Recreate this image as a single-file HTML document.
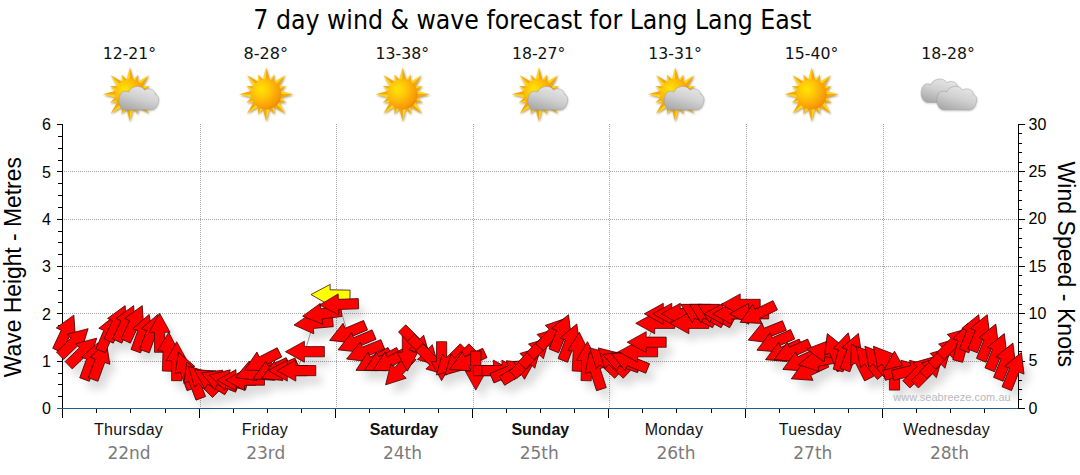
<!DOCTYPE html>
<html lang="en"><head><meta charset="utf-8"><title>7 day wind &amp; wave forecast for Lang Lang East</title>
<style>
html,body{margin:0;padding:0;background:#fff;}
body{width:1080px;height:475px;overflow:hidden;}
svg{display:block;}
.tah{font-family:"DejaVu Sans Condensed","DejaVu Sans","Liberation Sans",sans-serif;}
.ver{font-family:"DejaVu Sans","Liberation Sans",sans-serif;}
.ari{font-family:"Liberation Sans",Arial,sans-serif;}
</style></head><body>
<svg width="1080" height="475" viewBox="0 0 1080 475">
<defs>
<radialGradient id="sunG" cx="0.34" cy="0.34" r="0.72"><stop offset="0" stop-color="#ffe600"/><stop offset="0.4" stop-color="#ffc408"/><stop offset="0.85" stop-color="#f99a06"/><stop offset="1" stop-color="#e98a0a"/></radialGradient>
<linearGradient id="rayG" x1="0" y1="0" x2="0" y2="1"><stop offset="0" stop-color="#ffd21a"/><stop offset="1" stop-color="#f7a000"/></linearGradient>
<linearGradient id="cloudG" x1="0.75" y1="0" x2="0.25" y2="1"><stop offset="0" stop-color="#e8e8e8"/><stop offset="0.5" stop-color="#d0d0d0"/><stop offset="1" stop-color="#a9a9a9"/></linearGradient>
<filter id="sh" x="-20%" y="-20%" width="150%" height="160%"><feGaussianBlur stdDeviation="4.5"/></filter>
<filter id="ish" x="-20%" y="-20%" width="140%" height="140%"><feGaussianBlur stdDeviation="0.8"/></filter>
<path id="ar" d="M0,-19.5 L10.5,-0.5 L5.1,-0.5 L5.1,19.5 L-5.1,19.5 L-5.1,-0.5 L-10.5,-0.5 Z"/>
<g id="sun"><g fill="#7a5a18" opacity="0.6" transform="translate(0.7,1.1)" filter="url(#ish)"><path transform="rotate(0.0)" d="M-3.7,-13.5 L0,-27.0 L3.7,-13.5 Z"/><path transform="rotate(22.5)" d="M-3.0,-13.5 L0,-21.5 L3.0,-13.5 Z"/><path transform="rotate(45.0)" d="M-3.7,-13.5 L0,-27.0 L3.7,-13.5 Z"/><path transform="rotate(67.5)" d="M-3.0,-13.5 L0,-21.5 L3.0,-13.5 Z"/><path transform="rotate(90.0)" d="M-3.7,-13.5 L0,-27.0 L3.7,-13.5 Z"/><path transform="rotate(112.5)" d="M-3.0,-13.5 L0,-21.5 L3.0,-13.5 Z"/><path transform="rotate(135.0)" d="M-3.7,-13.5 L0,-27.0 L3.7,-13.5 Z"/><path transform="rotate(157.5)" d="M-3.0,-13.5 L0,-21.5 L3.0,-13.5 Z"/><path transform="rotate(180.0)" d="M-3.7,-13.5 L0,-27.0 L3.7,-13.5 Z"/><path transform="rotate(202.5)" d="M-3.0,-13.5 L0,-21.5 L3.0,-13.5 Z"/><path transform="rotate(225.0)" d="M-3.7,-13.5 L0,-27.0 L3.7,-13.5 Z"/><path transform="rotate(247.5)" d="M-3.0,-13.5 L0,-21.5 L3.0,-13.5 Z"/><path transform="rotate(270.0)" d="M-3.7,-13.5 L0,-27.0 L3.7,-13.5 Z"/><path transform="rotate(292.5)" d="M-3.0,-13.5 L0,-21.5 L3.0,-13.5 Z"/><path transform="rotate(315.0)" d="M-3.7,-13.5 L0,-27.0 L3.7,-13.5 Z"/><path transform="rotate(337.5)" d="M-3.0,-13.5 L0,-21.5 L3.0,-13.5 Z"/><circle r="15.3"/></g><g fill="#ffd60f"><path transform="rotate(0.0)" d="M-3.7,-13.5 L0,-27.0 L0,-13.5 Z"/><path transform="rotate(22.5)" d="M-3.0,-13.5 L0,-21.5 L0,-13.5 Z"/><path transform="rotate(45.0)" d="M-3.7,-13.5 L0,-27.0 L0,-13.5 Z"/><path transform="rotate(67.5)" d="M-3.0,-13.5 L0,-21.5 L0,-13.5 Z"/><path transform="rotate(90.0)" d="M-3.7,-13.5 L0,-27.0 L0,-13.5 Z"/><path transform="rotate(112.5)" d="M-3.0,-13.5 L0,-21.5 L0,-13.5 Z"/><path transform="rotate(135.0)" d="M-3.7,-13.5 L0,-27.0 L0,-13.5 Z"/><path transform="rotate(157.5)" d="M-3.0,-13.5 L0,-21.5 L0,-13.5 Z"/><path transform="rotate(180.0)" d="M-3.7,-13.5 L0,-27.0 L0,-13.5 Z"/><path transform="rotate(202.5)" d="M-3.0,-13.5 L0,-21.5 L0,-13.5 Z"/><path transform="rotate(225.0)" d="M-3.7,-13.5 L0,-27.0 L0,-13.5 Z"/><path transform="rotate(247.5)" d="M-3.0,-13.5 L0,-21.5 L0,-13.5 Z"/><path transform="rotate(270.0)" d="M-3.7,-13.5 L0,-27.0 L0,-13.5 Z"/><path transform="rotate(292.5)" d="M-3.0,-13.5 L0,-21.5 L0,-13.5 Z"/><path transform="rotate(315.0)" d="M-3.7,-13.5 L0,-27.0 L0,-13.5 Z"/><path transform="rotate(337.5)" d="M-3.0,-13.5 L0,-21.5 L0,-13.5 Z"/></g><g fill="#f9a60a"><path transform="rotate(0.0)" d="M0,-13.5 L0,-27.0 L3.7,-13.5 Z"/><path transform="rotate(22.5)" d="M0,-13.5 L0,-21.5 L3.0,-13.5 Z"/><path transform="rotate(45.0)" d="M0,-13.5 L0,-27.0 L3.7,-13.5 Z"/><path transform="rotate(67.5)" d="M0,-13.5 L0,-21.5 L3.0,-13.5 Z"/><path transform="rotate(90.0)" d="M0,-13.5 L0,-27.0 L3.7,-13.5 Z"/><path transform="rotate(112.5)" d="M0,-13.5 L0,-21.5 L3.0,-13.5 Z"/><path transform="rotate(135.0)" d="M0,-13.5 L0,-27.0 L3.7,-13.5 Z"/><path transform="rotate(157.5)" d="M0,-13.5 L0,-21.5 L3.0,-13.5 Z"/><path transform="rotate(180.0)" d="M0,-13.5 L0,-27.0 L3.7,-13.5 Z"/><path transform="rotate(202.5)" d="M0,-13.5 L0,-21.5 L3.0,-13.5 Z"/><path transform="rotate(225.0)" d="M0,-13.5 L0,-27.0 L3.7,-13.5 Z"/><path transform="rotate(247.5)" d="M0,-13.5 L0,-21.5 L3.0,-13.5 Z"/><path transform="rotate(270.0)" d="M0,-13.5 L0,-27.0 L3.7,-13.5 Z"/><path transform="rotate(292.5)" d="M0,-13.5 L0,-21.5 L3.0,-13.5 Z"/><path transform="rotate(315.0)" d="M0,-13.5 L0,-27.0 L3.7,-13.5 Z"/><path transform="rotate(337.5)" d="M0,-13.5 L0,-21.5 L3.0,-13.5 Z"/></g><circle r="15.2" fill="url(#sunG)"/></g>
<g id="cloud"><path d="M-12.8,11.4 C-17,11.4 -19.9,7 -19.7,1.8 C-19.6,-3.5 -17,-7.4 -13.4,-7.2 C-12,-7.3 -10.8,-6.8 -10.1,-6.2 C-8.8,-9.8 -5.2,-12 -1.3,-12 C2,-12 4.6,-10.5 6,-8.1 C7.2,-9.2 9,-9.7 10.8,-9.5 C14,-9.3 16.5,-7 16.8,-3.8 C19.4,-3 20.6,-0.2 19.9,2.4 C19.2,7.4 16.5,11.4 12.6,11.4 Z" fill="#777" opacity="0.5" transform="translate(0.3,0.9)" filter="url(#ish)"/><path d="M-12.8,11.4 C-17,11.4 -19.9,7 -19.7,1.8 C-19.6,-3.5 -17,-7.4 -13.4,-7.2 C-12,-7.3 -10.8,-6.8 -10.1,-6.2 C-8.8,-9.8 -5.2,-12 -1.3,-12 C2,-12 4.6,-10.5 6,-8.1 C7.2,-9.2 9,-9.7 10.8,-9.5 C14,-9.3 16.5,-7 16.8,-3.8 C19.4,-3 20.6,-0.2 19.9,2.4 C19.2,7.4 16.5,11.4 12.6,11.4 Z" fill="url(#cloudG)" stroke="#a2a2a2" stroke-width="0.5"/></g>
</defs>
<text class="tah" x="532.3" y="29" font-size="26" text-anchor="middle" fill="#000" textLength="558" lengthAdjust="spacingAndGlyphs">7 day wind &amp; wave forecast for Lang Lang East</text>
<text class="ver" x="129.4" y="58.6" font-size="15.5" text-anchor="middle" fill="#111" textLength="53.5" lengthAdjust="spacingAndGlyphs">12-21°</text>
<use href="#sun" x="129.9" y="94.3"/>
<use href="#cloud" x="138.7" y="98.4"/>
<text class="ver" x="265.8" y="58.6" font-size="15.5" text-anchor="middle" fill="#111" textLength="44.5" lengthAdjust="spacingAndGlyphs">8-28°</text>
<use href="#sun" x="266.2" y="94.3"/>
<text class="ver" x="402.3" y="58.6" font-size="15.5" text-anchor="middle" fill="#111" textLength="53.5" lengthAdjust="spacingAndGlyphs">13-38°</text>
<use href="#sun" x="402.6" y="94.3"/>
<text class="ver" x="538.7" y="58.6" font-size="15.5" text-anchor="middle" fill="#111" textLength="53.5" lengthAdjust="spacingAndGlyphs">18-27°</text>
<use href="#sun" x="538.9" y="94.3"/>
<use href="#cloud" x="547.7" y="98.4"/>
<text class="ver" x="675.1" y="58.6" font-size="15.5" text-anchor="middle" fill="#111" textLength="53.5" lengthAdjust="spacingAndGlyphs">13-31°</text>
<use href="#sun" x="675.2" y="94.3"/>
<use href="#cloud" x="684.0" y="98.4"/>
<text class="ver" x="811.6" y="58.6" font-size="15.5" text-anchor="middle" fill="#111" textLength="53.5" lengthAdjust="spacingAndGlyphs">15-40°</text>
<use href="#sun" x="811.6" y="94.3"/>
<text class="ver" x="948.0" y="58.6" font-size="15.5" text-anchor="middle" fill="#111" textLength="53.5" lengthAdjust="spacingAndGlyphs">18-28°</text>
<use href="#cloud" x="940.9" y="91"/>
<use href="#cloud" x="956.7" y="98.4"/>
<g stroke="#a6a6a6" stroke-width="1" stroke-dasharray="1,1" fill="none" shape-rendering="crispEdges">
<line x1="64" y1="361.5" x2="1018" y2="361.5"/>
<line x1="64" y1="313.5" x2="1018" y2="313.5"/>
<line x1="64" y1="266.5" x2="1018" y2="266.5"/>
<line x1="64" y1="219.5" x2="1018" y2="219.5"/>
<line x1="64" y1="171.5" x2="1018" y2="171.5"/>
<line x1="200.5" y1="124" x2="200.5" y2="408"/>
<line x1="336.5" y1="124" x2="336.5" y2="408"/>
<line x1="473.5" y1="124" x2="473.5" y2="408"/>
<line x1="609.5" y1="124" x2="609.5" y2="408"/>
<line x1="746.5" y1="124" x2="746.5" y2="408"/>
<line x1="883.5" y1="124" x2="883.5" y2="408"/>
</g>
<g stroke="#000" stroke-width="1" fill="none" shape-rendering="crispEdges">
<line x1="62.5" y1="124" x2="62.5" y2="418"/>
<line x1="57" y1="408.5" x2="62" y2="408.5"/>
<line x1="58" y1="396.5" x2="62" y2="396.5"/>
<line x1="58" y1="384.5" x2="62" y2="384.5"/>
<line x1="58" y1="373.5" x2="62" y2="373.5"/>
<line x1="57" y1="361.5" x2="62" y2="361.5"/>
<line x1="58" y1="349.5" x2="62" y2="349.5"/>
<line x1="58" y1="337.5" x2="62" y2="337.5"/>
<line x1="58" y1="325.5" x2="62" y2="325.5"/>
<line x1="57" y1="313.5" x2="62" y2="313.5"/>
<line x1="58" y1="302.5" x2="62" y2="302.5"/>
<line x1="58" y1="290.5" x2="62" y2="290.5"/>
<line x1="58" y1="278.5" x2="62" y2="278.5"/>
<line x1="57" y1="266.5" x2="62" y2="266.5"/>
<line x1="58" y1="254.5" x2="62" y2="254.5"/>
<line x1="58" y1="242.5" x2="62" y2="242.5"/>
<line x1="58" y1="231.5" x2="62" y2="231.5"/>
<line x1="57" y1="219.5" x2="62" y2="219.5"/>
<line x1="58" y1="207.5" x2="62" y2="207.5"/>
<line x1="58" y1="195.5" x2="62" y2="195.5"/>
<line x1="58" y1="183.5" x2="62" y2="183.5"/>
<line x1="57" y1="171.5" x2="62" y2="171.5"/>
<line x1="58" y1="160.5" x2="62" y2="160.5"/>
<line x1="58" y1="148.5" x2="62" y2="148.5"/>
<line x1="58" y1="136.5" x2="62" y2="136.5"/>
<line x1="57" y1="124.5" x2="62" y2="124.5"/>
<line x1="1018.5" y1="124" x2="1018.5" y2="409"/>
<line x1="1019" y1="408.5" x2="1025" y2="408.5"/>
<line x1="1019" y1="399.5" x2="1022" y2="399.5"/>
<line x1="1019" y1="389.5" x2="1022" y2="389.5"/>
<line x1="1019" y1="380.5" x2="1022" y2="380.5"/>
<line x1="1019" y1="370.5" x2="1022" y2="370.5"/>
<line x1="1019" y1="361.5" x2="1025" y2="361.5"/>
<line x1="1019" y1="351.5" x2="1022" y2="351.5"/>
<line x1="1019" y1="342.5" x2="1022" y2="342.5"/>
<line x1="1019" y1="332.5" x2="1022" y2="332.5"/>
<line x1="1019" y1="323.5" x2="1022" y2="323.5"/>
<line x1="1019" y1="313.5" x2="1025" y2="313.5"/>
<line x1="1019" y1="304.5" x2="1022" y2="304.5"/>
<line x1="1019" y1="294.5" x2="1022" y2="294.5"/>
<line x1="1019" y1="285.5" x2="1022" y2="285.5"/>
<line x1="1019" y1="275.5" x2="1022" y2="275.5"/>
<line x1="1019" y1="266.5" x2="1025" y2="266.5"/>
<line x1="1019" y1="257.5" x2="1022" y2="257.5"/>
<line x1="1019" y1="247.5" x2="1022" y2="247.5"/>
<line x1="1019" y1="238.5" x2="1022" y2="238.5"/>
<line x1="1019" y1="228.5" x2="1022" y2="228.5"/>
<line x1="1019" y1="219.5" x2="1025" y2="219.5"/>
<line x1="1019" y1="209.5" x2="1022" y2="209.5"/>
<line x1="1019" y1="200.5" x2="1022" y2="200.5"/>
<line x1="1019" y1="190.5" x2="1022" y2="190.5"/>
<line x1="1019" y1="181.5" x2="1022" y2="181.5"/>
<line x1="1019" y1="171.5" x2="1025" y2="171.5"/>
<line x1="1019" y1="162.5" x2="1022" y2="162.5"/>
<line x1="1019" y1="152.5" x2="1022" y2="152.5"/>
<line x1="1019" y1="143.5" x2="1022" y2="143.5"/>
<line x1="1019" y1="133.5" x2="1022" y2="133.5"/>
<line x1="1019" y1="124.5" x2="1025" y2="124.5"/>
<line x1="62.5" y1="409" x2="62.5" y2="418"/>
<line x1="96.5" y1="409" x2="96.5" y2="413"/>
<line x1="130.5" y1="409" x2="130.5" y2="413"/>
<line x1="165.5" y1="409" x2="165.5" y2="413"/>
<line x1="199.5" y1="409" x2="199.5" y2="418"/>
<line x1="233.5" y1="409" x2="233.5" y2="413"/>
<line x1="267.5" y1="409" x2="267.5" y2="413"/>
<line x1="301.5" y1="409" x2="301.5" y2="413"/>
<line x1="335.5" y1="409" x2="335.5" y2="418"/>
<line x1="369.5" y1="409" x2="369.5" y2="413"/>
<line x1="404.5" y1="409" x2="404.5" y2="413"/>
<line x1="438.5" y1="409" x2="438.5" y2="413"/>
<line x1="472.5" y1="409" x2="472.5" y2="418"/>
<line x1="506.5" y1="409" x2="506.5" y2="413"/>
<line x1="540.5" y1="409" x2="540.5" y2="413"/>
<line x1="574.5" y1="409" x2="574.5" y2="413"/>
<line x1="608.5" y1="409" x2="608.5" y2="418"/>
<line x1="642.5" y1="409" x2="642.5" y2="413"/>
<line x1="676.5" y1="409" x2="676.5" y2="413"/>
<line x1="711.5" y1="409" x2="711.5" y2="413"/>
<line x1="745.5" y1="409" x2="745.5" y2="418"/>
<line x1="779.5" y1="409" x2="779.5" y2="413"/>
<line x1="814.5" y1="409" x2="814.5" y2="413"/>
<line x1="848.5" y1="409" x2="848.5" y2="413"/>
<line x1="882.5" y1="409" x2="882.5" y2="418"/>
<line x1="916.5" y1="409" x2="916.5" y2="413"/>
<line x1="950.5" y1="409" x2="950.5" y2="413"/>
<line x1="984.5" y1="409" x2="984.5" y2="413"/>
</g>
<line x1="57" y1="408.5" x2="1018" y2="408.5" stroke="#1f5c8f" stroke-width="1" shape-rendering="crispEdges"/>
<g filter="url(#sh)" opacity="0.14" fill="#000" transform="translate(6,9)">
<use href="#ar" transform="translate(65.6,332.8) rotate(25)"/>
<use href="#ar" transform="translate(74.1,342.2) rotate(46)"/>
<use href="#ar" transform="translate(82.7,351.7) rotate(46)"/>
<use href="#ar" transform="translate(91.2,361.2) rotate(20)"/>
<use href="#ar" transform="translate(99.8,361.2) rotate(20)"/>
<use href="#ar" transform="translate(108.3,332.8) rotate(23)"/>
<use href="#ar" transform="translate(116.9,323.3) rotate(25)"/>
<use href="#ar" transform="translate(125.4,323.3) rotate(25)"/>
<use href="#ar" transform="translate(134.0,323.3) rotate(25)"/>
<use href="#ar" transform="translate(142.5,332.8) rotate(20)"/>
<use href="#ar" transform="translate(151.1,332.8) rotate(20)"/>
<use href="#ar" transform="translate(159.6,332.8) rotate(0)"/>
<use href="#ar" transform="translate(168.1,351.7) rotate(2)"/>
<use href="#ar" transform="translate(176.7,361.2) rotate(0)"/>
<use href="#ar" transform="translate(185.2,370.6) rotate(-20)"/>
<use href="#ar" transform="translate(193.8,380.1) rotate(-21)"/>
<use href="#ar" transform="translate(202.3,380.1) rotate(-45)"/>
<use href="#ar" transform="translate(210.9,380.1) rotate(-58)"/>
<use href="#ar" transform="translate(219.4,380.1) rotate(-68)"/>
<use href="#ar" transform="translate(228.0,380.1) rotate(-75)"/>
<use href="#ar" transform="translate(236.5,380.1) rotate(-90)"/>
<use href="#ar" transform="translate(245.0,380.1) rotate(-90)"/>
<use href="#ar" transform="translate(253.6,370.6) rotate(-111)"/>
<use href="#ar" transform="translate(262.1,361.2) rotate(-117)"/>
<use href="#ar" transform="translate(270.7,370.6) rotate(-115)"/>
<use href="#ar" transform="translate(279.2,370.6) rotate(-114)"/>
<use href="#ar" transform="translate(287.8,370.6) rotate(-90)"/>
<use href="#ar" transform="translate(296.3,370.6) rotate(-90)"/>
<use href="#ar" transform="translate(304.9,351.7) rotate(-90)"/>
<use href="#ar" transform="translate(313.4,323.3) rotate(-95)"/>
<use href="#ar" transform="translate(322.0,313.8) rotate(-97)"/>
<use href="#ar" transform="translate(330.5,294.9) rotate(-89)"/>
<use href="#ar" transform="translate(339.0,304.4) rotate(-92)"/>
<use href="#ar" transform="translate(347.6,332.8) rotate(-113)"/>
<use href="#ar" transform="translate(356.1,342.2) rotate(-113)"/>
<use href="#ar" transform="translate(364.7,351.7) rotate(-112)"/>
<use href="#ar" transform="translate(373.2,361.2) rotate(-118)"/>
<use href="#ar" transform="translate(381.8,361.2) rotate(-118)"/>
<use href="#ar" transform="translate(390.3,361.2) rotate(-118)"/>
<use href="#ar" transform="translate(398.9,370.6) rotate(-137)"/>
<use href="#ar" transform="translate(407.4,351.7) rotate(180)"/>
<use href="#ar" transform="translate(415.9,342.2) rotate(135)"/>
<use href="#ar" transform="translate(424.5,351.7) rotate(135)"/>
<use href="#ar" transform="translate(433.0,361.2) rotate(135)"/>
<use href="#ar" transform="translate(441.6,361.2) rotate(180)"/>
<use href="#ar" transform="translate(450.1,361.2) rotate(-135)"/>
<use href="#ar" transform="translate(458.7,361.2) rotate(-135)"/>
<use href="#ar" transform="translate(467.2,361.2) rotate(-115)"/>
<use href="#ar" transform="translate(475.8,370.6) rotate(180)"/>
<use href="#ar" transform="translate(492.9,370.6) rotate(90)"/>
<use href="#ar" transform="translate(501.4,370.6) rotate(90)"/>
<use href="#ar" transform="translate(509.9,370.6) rotate(67)"/>
<use href="#ar" transform="translate(518.5,370.6) rotate(58)"/>
<use href="#ar" transform="translate(527.0,361.2) rotate(45)"/>
<use href="#ar" transform="translate(535.6,351.7) rotate(45)"/>
<use href="#ar" transform="translate(544.1,342.2) rotate(45)"/>
<use href="#ar" transform="translate(552.7,332.8) rotate(42)"/>
<use href="#ar" transform="translate(561.2,332.8) rotate(22)"/>
<use href="#ar" transform="translate(569.8,342.2) rotate(21)"/>
<use href="#ar" transform="translate(578.3,351.7) rotate(3)"/>
<use href="#ar" transform="translate(586.8,361.2) rotate(2)"/>
<use href="#ar" transform="translate(595.4,370.6) rotate(-18)"/>
<use href="#ar" transform="translate(603.9,361.2) rotate(-47)"/>
<use href="#ar" transform="translate(612.5,361.2) rotate(-47)"/>
<use href="#ar" transform="translate(621.0,361.2) rotate(-70)"/>
<use href="#ar" transform="translate(629.6,361.2) rotate(-68)"/>
<use href="#ar" transform="translate(638.1,351.7) rotate(-90)"/>
<use href="#ar" transform="translate(646.7,342.2) rotate(-90)"/>
<use href="#ar" transform="translate(655.2,323.3) rotate(-90)"/>
<use href="#ar" transform="translate(663.8,313.8) rotate(-90)"/>
<use href="#ar" transform="translate(672.3,313.8) rotate(-90)"/>
<use href="#ar" transform="translate(680.8,313.8) rotate(-90)"/>
<use href="#ar" transform="translate(689.4,323.3) rotate(-90)"/>
<use href="#ar" transform="translate(697.9,313.8) rotate(-61)"/>
<use href="#ar" transform="translate(706.5,313.8) rotate(-61)"/>
<use href="#ar" transform="translate(715.0,313.8) rotate(-61)"/>
<use href="#ar" transform="translate(723.6,313.8) rotate(-90)"/>
<use href="#ar" transform="translate(732.1,313.8) rotate(-90)"/>
<use href="#ar" transform="translate(740.7,304.4) rotate(-90)"/>
<use href="#ar" transform="translate(749.2,313.8) rotate(-90)"/>
<use href="#ar" transform="translate(757.7,313.8) rotate(-116)"/>
<use href="#ar" transform="translate(766.3,332.8) rotate(-112)"/>
<use href="#ar" transform="translate(774.8,342.2) rotate(-114)"/>
<use href="#ar" transform="translate(783.4,351.7) rotate(-114)"/>
<use href="#ar" transform="translate(791.9,351.7) rotate(-114)"/>
<use href="#ar" transform="translate(800.5,361.2) rotate(-115)"/>
<use href="#ar" transform="translate(809.0,370.6) rotate(-115)"/>
<use href="#ar" transform="translate(817.6,361.2) rotate(-100)"/>
<use href="#ar" transform="translate(826.1,351.7) rotate(-82)"/>
<use href="#ar" transform="translate(834.6,351.7) rotate(-22)"/>
<use href="#ar" transform="translate(843.2,351.7) rotate(15)"/>
<use href="#ar" transform="translate(851.7,351.7) rotate(20)"/>
<use href="#ar" transform="translate(860.3,361.2) rotate(-27)"/>
<use href="#ar" transform="translate(868.8,361.2) rotate(-40)"/>
<use href="#ar" transform="translate(877.4,361.2) rotate(-40)"/>
<use href="#ar" transform="translate(885.9,361.2) rotate(-40)"/>
<use href="#ar" transform="translate(894.5,370.6) rotate(0)"/>
<use href="#ar" transform="translate(903.0,370.6) rotate(76)"/>
<use href="#ar" transform="translate(911.6,370.6) rotate(76)"/>
<use href="#ar" transform="translate(920.1,370.6) rotate(45)"/>
<use href="#ar" transform="translate(928.6,370.6) rotate(45)"/>
<use href="#ar" transform="translate(937.2,361.2) rotate(45)"/>
<use href="#ar" transform="translate(945.7,351.7) rotate(45)"/>
<use href="#ar" transform="translate(954.3,342.2) rotate(45)"/>
<use href="#ar" transform="translate(962.8,342.2) rotate(15)"/>
<use href="#ar" transform="translate(971.4,332.8) rotate(22)"/>
<use href="#ar" transform="translate(979.9,332.8) rotate(22)"/>
<use href="#ar" transform="translate(988.5,342.2) rotate(22)"/>
<use href="#ar" transform="translate(997.0,351.7) rotate(22)"/>
<use href="#ar" transform="translate(1005.6,361.2) rotate(22)"/>
<use href="#ar" transform="translate(1014.1,370.6) rotate(22)"/>
</g>
<polyline fill="none" stroke="#808080" stroke-width="0.8" points="65.6,332.8 74.1,342.2 82.7,351.7 91.2,361.2 99.8,361.2 108.3,332.8 116.9,323.3 125.4,323.3 134.0,323.3 142.5,332.8 151.1,332.8 159.6,332.8 168.1,351.7 176.7,361.2 185.2,370.6 193.8,380.1 202.3,380.1 210.9,380.1 219.4,380.1 228.0,380.1 236.5,380.1 245.0,380.1 253.6,370.6 262.1,361.2 270.7,370.6 279.2,370.6 287.8,370.6 296.3,370.6 304.9,351.7 313.4,323.3 322.0,313.8 330.5,294.9 339.0,304.4 347.6,332.8 356.1,342.2 364.7,351.7 373.2,361.2 381.8,361.2 390.3,361.2 398.9,370.6 407.4,351.7 415.9,342.2 424.5,351.7 433.0,361.2 441.6,361.2 450.1,361.2 458.7,361.2 467.2,361.2 475.8,370.6 484.3,370.6 492.9,370.6 501.4,370.6 509.9,370.6 518.5,370.6 527.0,361.2 535.6,351.7 544.1,342.2 552.7,332.8 561.2,332.8 569.8,342.2 578.3,351.7 586.8,361.2 595.4,370.6 603.9,361.2 612.5,361.2 621.0,361.2 629.6,361.2 638.1,351.7 646.7,342.2 655.2,323.3 663.8,313.8 672.3,313.8 680.8,313.8 689.4,323.3 697.9,313.8 706.5,313.8 715.0,313.8 723.6,313.8 732.1,313.8 740.7,304.4 749.2,313.8 757.7,313.8 766.3,332.8 774.8,342.2 783.4,351.7 791.9,351.7 800.5,361.2 809.0,370.6 817.6,361.2 826.1,351.7 834.6,351.7 843.2,351.7 851.7,351.7 860.3,361.2 868.8,361.2 877.4,361.2 885.9,361.2 894.5,370.6 903.0,370.6 911.6,370.6 920.1,370.6 928.6,370.6 937.2,361.2 945.7,351.7 954.3,342.2 962.8,342.2 971.4,332.8 979.9,332.8 988.5,342.2 997.0,351.7 1005.6,361.2 1014.1,370.6"/>
<g stroke="#3a0000" stroke-width="0.75" stroke-linejoin="miter">
<use href="#ar" fill="#ffff00" transform="translate(330.5,294.9) rotate(-89)"/>
<use href="#ar" fill="#ff0000" transform="translate(65.6,332.8) rotate(25)"/>
<use href="#ar" fill="#ff0000" transform="translate(74.1,342.2) rotate(46)"/>
<use href="#ar" fill="#ff0000" transform="translate(82.7,351.7) rotate(46)"/>
<use href="#ar" fill="#ff0000" transform="translate(91.2,361.2) rotate(20)"/>
<use href="#ar" fill="#ff0000" transform="translate(99.8,361.2) rotate(20)"/>
<use href="#ar" fill="#ff0000" transform="translate(108.3,332.8) rotate(23)"/>
<use href="#ar" fill="#ff0000" transform="translate(116.9,323.3) rotate(25)"/>
<use href="#ar" fill="#ff0000" transform="translate(125.4,323.3) rotate(25)"/>
<use href="#ar" fill="#ff0000" transform="translate(134.0,323.3) rotate(25)"/>
<use href="#ar" fill="#ff0000" transform="translate(142.5,332.8) rotate(20)"/>
<use href="#ar" fill="#ff0000" transform="translate(151.1,332.8) rotate(20)"/>
<use href="#ar" fill="#ff0000" transform="translate(159.6,332.8) rotate(0)"/>
<use href="#ar" fill="#ff0000" transform="translate(168.1,351.7) rotate(2)"/>
<use href="#ar" fill="#ff0000" transform="translate(176.7,361.2) rotate(0)"/>
<use href="#ar" fill="#ff0000" transform="translate(185.2,370.6) rotate(-20)"/>
<use href="#ar" fill="#ff0000" transform="translate(193.8,380.1) rotate(-21)"/>
<use href="#ar" fill="#ff0000" transform="translate(202.3,380.1) rotate(-45)"/>
<use href="#ar" fill="#ff0000" transform="translate(210.9,380.1) rotate(-58)"/>
<use href="#ar" fill="#ff0000" transform="translate(219.4,380.1) rotate(-68)"/>
<use href="#ar" fill="#ff0000" transform="translate(228.0,380.1) rotate(-75)"/>
<use href="#ar" fill="#ff0000" transform="translate(236.5,380.1) rotate(-90)"/>
<use href="#ar" fill="#ff0000" transform="translate(245.0,380.1) rotate(-90)"/>
<use href="#ar" fill="#ff0000" transform="translate(253.6,370.6) rotate(-111)"/>
<use href="#ar" fill="#ff0000" transform="translate(262.1,361.2) rotate(-117)"/>
<use href="#ar" fill="#ff0000" transform="translate(270.7,370.6) rotate(-115)"/>
<use href="#ar" fill="#ff0000" transform="translate(279.2,370.6) rotate(-114)"/>
<use href="#ar" fill="#ff0000" transform="translate(287.8,370.6) rotate(-90)"/>
<use href="#ar" fill="#ff0000" transform="translate(296.3,370.6) rotate(-90)"/>
<use href="#ar" fill="#ff0000" transform="translate(304.9,351.7) rotate(-90)"/>
<use href="#ar" fill="#ff0000" transform="translate(313.4,323.3) rotate(-95)"/>
<use href="#ar" fill="#ff0000" transform="translate(322.0,313.8) rotate(-97)"/>
<use href="#ar" fill="#ff0000" transform="translate(339.0,304.4) rotate(-92)"/>
<use href="#ar" fill="#ff0000" transform="translate(347.6,332.8) rotate(-113)"/>
<use href="#ar" fill="#ff0000" transform="translate(356.1,342.2) rotate(-113)"/>
<use href="#ar" fill="#ff0000" transform="translate(364.7,351.7) rotate(-112)"/>
<use href="#ar" fill="#ff0000" transform="translate(373.2,361.2) rotate(-118)"/>
<use href="#ar" fill="#ff0000" transform="translate(381.8,361.2) rotate(-118)"/>
<use href="#ar" fill="#ff0000" transform="translate(390.3,361.2) rotate(-118)"/>
<use href="#ar" fill="#ff0000" transform="translate(398.9,370.6) rotate(-137)"/>
<use href="#ar" fill="#ff0000" transform="translate(407.4,351.7) rotate(180)"/>
<use href="#ar" fill="#ff0000" transform="translate(415.9,342.2) rotate(135)"/>
<use href="#ar" fill="#ff0000" transform="translate(424.5,351.7) rotate(135)"/>
<use href="#ar" fill="#ff0000" transform="translate(433.0,361.2) rotate(135)"/>
<use href="#ar" fill="#ff0000" transform="translate(441.6,361.2) rotate(180)"/>
<use href="#ar" fill="#ff0000" transform="translate(450.1,361.2) rotate(-135)"/>
<use href="#ar" fill="#ff0000" transform="translate(458.7,361.2) rotate(-135)"/>
<use href="#ar" fill="#ff0000" transform="translate(467.2,361.2) rotate(-115)"/>
<use href="#ar" fill="#ff0000" transform="translate(475.8,370.6) rotate(180)"/>
<use href="#ar" fill="#ff0000" transform="translate(492.9,370.6) rotate(90)"/>
<use href="#ar" fill="#ff0000" transform="translate(501.4,370.6) rotate(90)"/>
<use href="#ar" fill="#ff0000" transform="translate(509.9,370.6) rotate(67)"/>
<use href="#ar" fill="#ff0000" transform="translate(518.5,370.6) rotate(58)"/>
<use href="#ar" fill="#ff0000" transform="translate(527.0,361.2) rotate(45)"/>
<use href="#ar" fill="#ff0000" transform="translate(535.6,351.7) rotate(45)"/>
<use href="#ar" fill="#ff0000" transform="translate(544.1,342.2) rotate(45)"/>
<use href="#ar" fill="#ff0000" transform="translate(552.7,332.8) rotate(42)"/>
<use href="#ar" fill="#ff0000" transform="translate(561.2,332.8) rotate(22)"/>
<use href="#ar" fill="#ff0000" transform="translate(569.8,342.2) rotate(21)"/>
<use href="#ar" fill="#ff0000" transform="translate(578.3,351.7) rotate(3)"/>
<use href="#ar" fill="#ff0000" transform="translate(586.8,361.2) rotate(2)"/>
<use href="#ar" fill="#ff0000" transform="translate(595.4,370.6) rotate(-18)"/>
<use href="#ar" fill="#ff0000" transform="translate(603.9,361.2) rotate(-47)"/>
<use href="#ar" fill="#ff0000" transform="translate(612.5,361.2) rotate(-47)"/>
<use href="#ar" fill="#ff0000" transform="translate(621.0,361.2) rotate(-70)"/>
<use href="#ar" fill="#ff0000" transform="translate(629.6,361.2) rotate(-68)"/>
<use href="#ar" fill="#ff0000" transform="translate(638.1,351.7) rotate(-90)"/>
<use href="#ar" fill="#ff0000" transform="translate(646.7,342.2) rotate(-90)"/>
<use href="#ar" fill="#ff0000" transform="translate(655.2,323.3) rotate(-90)"/>
<use href="#ar" fill="#ff0000" transform="translate(663.8,313.8) rotate(-90)"/>
<use href="#ar" fill="#ff0000" transform="translate(672.3,313.8) rotate(-90)"/>
<use href="#ar" fill="#ff0000" transform="translate(680.8,313.8) rotate(-90)"/>
<use href="#ar" fill="#ff0000" transform="translate(689.4,323.3) rotate(-90)"/>
<use href="#ar" fill="#ff0000" transform="translate(697.9,313.8) rotate(-61)"/>
<use href="#ar" fill="#ff0000" transform="translate(706.5,313.8) rotate(-61)"/>
<use href="#ar" fill="#ff0000" transform="translate(715.0,313.8) rotate(-61)"/>
<use href="#ar" fill="#ff0000" transform="translate(723.6,313.8) rotate(-90)"/>
<use href="#ar" fill="#ff0000" transform="translate(732.1,313.8) rotate(-90)"/>
<use href="#ar" fill="#ff0000" transform="translate(740.7,304.4) rotate(-90)"/>
<use href="#ar" fill="#ff0000" transform="translate(749.2,313.8) rotate(-90)"/>
<use href="#ar" fill="#ff0000" transform="translate(757.7,313.8) rotate(-116)"/>
<use href="#ar" fill="#ff0000" transform="translate(766.3,332.8) rotate(-112)"/>
<use href="#ar" fill="#ff0000" transform="translate(774.8,342.2) rotate(-114)"/>
<use href="#ar" fill="#ff0000" transform="translate(783.4,351.7) rotate(-114)"/>
<use href="#ar" fill="#ff0000" transform="translate(791.9,351.7) rotate(-114)"/>
<use href="#ar" fill="#ff0000" transform="translate(800.5,361.2) rotate(-115)"/>
<use href="#ar" fill="#ff0000" transform="translate(809.0,370.6) rotate(-115)"/>
<use href="#ar" fill="#ff0000" transform="translate(817.6,361.2) rotate(-100)"/>
<use href="#ar" fill="#ff0000" transform="translate(826.1,351.7) rotate(-82)"/>
<use href="#ar" fill="#ff0000" transform="translate(834.6,351.7) rotate(-22)"/>
<use href="#ar" fill="#ff0000" transform="translate(843.2,351.7) rotate(15)"/>
<use href="#ar" fill="#ff0000" transform="translate(851.7,351.7) rotate(20)"/>
<use href="#ar" fill="#ff0000" transform="translate(860.3,361.2) rotate(-27)"/>
<use href="#ar" fill="#ff0000" transform="translate(868.8,361.2) rotate(-40)"/>
<use href="#ar" fill="#ff0000" transform="translate(877.4,361.2) rotate(-40)"/>
<use href="#ar" fill="#ff0000" transform="translate(885.9,361.2) rotate(-40)"/>
<use href="#ar" fill="#ff0000" transform="translate(894.5,370.6) rotate(0)"/>
<use href="#ar" fill="#ff0000" transform="translate(903.0,370.6) rotate(76)"/>
<use href="#ar" fill="#ff0000" transform="translate(911.6,370.6) rotate(76)"/>
<use href="#ar" fill="#ff0000" transform="translate(920.1,370.6) rotate(45)"/>
<use href="#ar" fill="#ff0000" transform="translate(928.6,370.6) rotate(45)"/>
<use href="#ar" fill="#ff0000" transform="translate(937.2,361.2) rotate(45)"/>
<use href="#ar" fill="#ff0000" transform="translate(945.7,351.7) rotate(45)"/>
<use href="#ar" fill="#ff0000" transform="translate(954.3,342.2) rotate(45)"/>
<use href="#ar" fill="#ff0000" transform="translate(962.8,342.2) rotate(15)"/>
<use href="#ar" fill="#ff0000" transform="translate(971.4,332.8) rotate(22)"/>
<use href="#ar" fill="#ff0000" transform="translate(979.9,332.8) rotate(22)"/>
<use href="#ar" fill="#ff0000" transform="translate(988.5,342.2) rotate(22)"/>
<use href="#ar" fill="#ff0000" transform="translate(997.0,351.7) rotate(22)"/>
<use href="#ar" fill="#ff0000" transform="translate(1005.6,361.2) rotate(22)"/>
<use href="#ar" fill="#ff0000" transform="translate(1014.1,370.6) rotate(22)"/>
</g>
<g class="ari" font-size="16" fill="#000">
<text x="51" y="414.2" text-anchor="end">0</text>
<text x="1028.5" y="413.6" text-anchor="start">0</text>
<text x="51" y="366.9" text-anchor="end">1</text>
<text x="1028.5" y="366.3" text-anchor="start">5</text>
<text x="51" y="319.5" text-anchor="end">2</text>
<text x="1028.5" y="318.9" text-anchor="start">10</text>
<text x="51" y="272.2" text-anchor="end">3</text>
<text x="1028.5" y="271.6" text-anchor="start">15</text>
<text x="51" y="224.9" text-anchor="end">4</text>
<text x="1028.5" y="224.3" text-anchor="start">20</text>
<text x="51" y="177.5" text-anchor="end">5</text>
<text x="1028.5" y="176.9" text-anchor="start">25</text>
<text x="51" y="130.2" text-anchor="end">6</text>
<text x="1028.5" y="129.6" text-anchor="start">30</text>
</g>
<text class="ari" transform="translate(20.8,267.2) rotate(-90)" font-size="23" text-anchor="middle" fill="#000" textLength="220" lengthAdjust="spacingAndGlyphs">Wave Height - Metres</text>
<text class="ari" transform="translate(1058.4,264.3) rotate(90)" font-size="23" text-anchor="middle" fill="#000" textLength="205.5" lengthAdjust="spacingAndGlyphs">Wind Speed - Knots</text>
<text class="ari" x="128.6" y="434.6" font-size="16" text-anchor="middle" fill="#111" letter-spacing="0.3">Thursday</text>
<text class="ver" x="129.0" y="458.6" font-size="17" text-anchor="middle" fill="#7a7a7a">22nd</text>
<text class="ari" x="264.9" y="434.6" font-size="16" text-anchor="middle" fill="#111" letter-spacing="0.3">Friday</text>
<text class="ver" x="265.8" y="458.6" font-size="17" text-anchor="middle" fill="#7a7a7a">23rd</text>
<text class="ari" x="403.9" y="434.6" font-size="16" text-anchor="middle" fill="#111" font-weight="bold">Saturday</text>
<text class="ver" x="402.5" y="458.6" font-size="17" text-anchor="middle" fill="#7a7a7a">24th</text>
<text class="ari" x="540.3" y="434.6" font-size="16" text-anchor="middle" fill="#111" font-weight="bold">Sunday</text>
<text class="ver" x="539.2" y="458.6" font-size="17" text-anchor="middle" fill="#7a7a7a">25th</text>
<text class="ari" x="674.0" y="434.6" font-size="16" text-anchor="middle" fill="#111" letter-spacing="0.3">Monday</text>
<text class="ver" x="676.0" y="458.6" font-size="17" text-anchor="middle" fill="#7a7a7a">26th</text>
<text class="ari" x="810.3" y="434.6" font-size="16" text-anchor="middle" fill="#111" letter-spacing="0.3">Tuesday</text>
<text class="ver" x="812.8" y="458.6" font-size="17" text-anchor="middle" fill="#7a7a7a">27th</text>
<text class="ari" x="946.6" y="434.6" font-size="16" text-anchor="middle" fill="#111" letter-spacing="0.3">Wednesday</text>
<text class="ver" x="949.5" y="458.6" font-size="17" text-anchor="middle" fill="#7a7a7a">28th</text>
<text class="ari" x="952" y="400.5" font-size="11" text-anchor="middle" fill="#b9b9b9" textLength="117.3" lengthAdjust="spacing">www.seabreeze.com.au</text>
</svg></body></html>
